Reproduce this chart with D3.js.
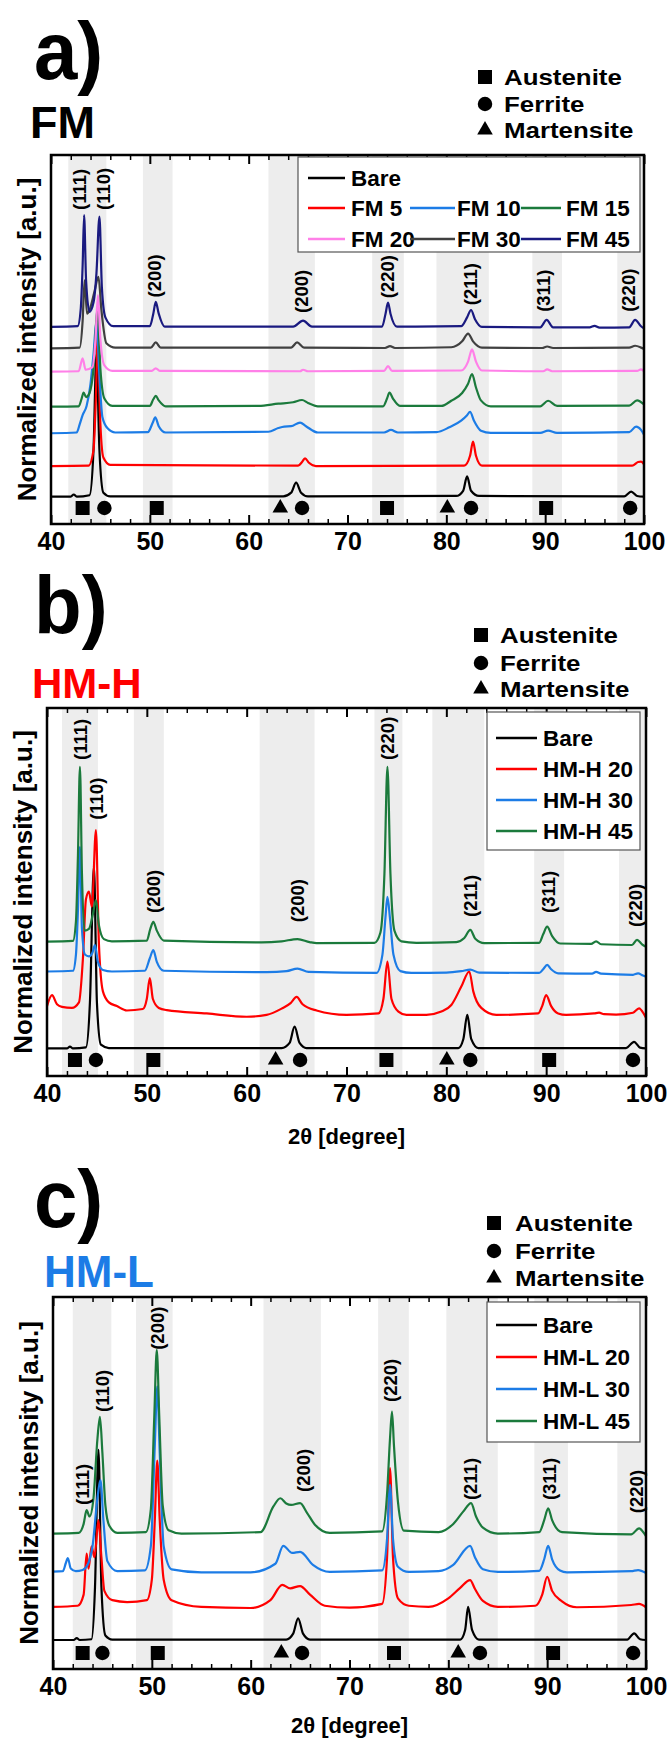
<!DOCTYPE html>
<html><head><meta charset="utf-8">
<script src="https://cdn.jsdelivr.net/npm/d3@7"></script>
<style>body{margin:0;background:#fff}svg{display:block}text{font-family:"Liberation Sans",Arial,sans-serif;font-weight:bold}</style>
</head><body><svg id="c" width="667" height="1742"></svg>
<script>
// ---------------- DATA ----------------
const xMajorTicks = [40,50,60,70,80,90,100];
const xMinorTicks = [42,44,46,48,52,54,56,58,62,64,66,68,72,74,76,78,82,84,86,88,92,94,96,98];
const phaseNames = ["Austenite","Ferrite","Martensite"];
const yTitle = "Normalized intensity [a.u.]";
const xTitle = "2\u03b8 [degree]";

// Panel a (FM)
const namesA = ["Bare","FM 5","FM 10","FM 15","FM 20","FM 30","FM 45"];
const bareA = [[40,7.4],[42.0,7.4],[42.3,8.0],[42.6,7.4],[43.9,7.8],[44.3,20],[44.6,46],[44.9,20],[45.3,8.5],[46,7.5],[63.5,7.5],[64.3,8.5],[64.8,11.2],[65.3,8.5],[66,7.5],[81,7.6],[81.7,9],[82.1,12.9],[82.5,9],[83.3,7.6],[98.0,7.5],[98.7,8.8],[99.3,7.6],[100,7.4]];
const fm5 = [[40,15.7],[43.8,15.8],[44.3,20],[44.55,35],[44.75,52],[44.95,30],[45.3,18],[46,16],[65,15.8],[65.4,16.8],[65.7,17.8],[66.1,16.6],[66.8,15.7],[81.8,15.8],[82.4,18.5],[82.7,22.3],[83.0,18.5],[83.6,15.8],[98.8,15.8],[99.4,16.8],[99.7,16.9],[100,16.2]];
const fm10 = [[40,24.6],[42.6,24.8],[42.9,27],[43.2,29.5],[43.6,32],[44.0,38],[44.3,46],[44.6,55],[44.9,40],[45.2,29],[45.7,26],[46.5,24.8],[49.8,24.9],[50.3,27.5],[50.55,28.9],[50.9,26.5],[51.6,24.8],[62.0,25],[63.0,26],[63.6,26.4],[64.3,26.5],[65.2,27.5],[65.8,26.5],[67,24.8],[73.7,24.8],[74.4,25.5],[75.1,24.8],[79,24.9],[80.3,26.2],[81.5,28],[82.1,29.5],[82.4,30.4],[82.8,28],[83.5,25.3],[84.5,24.7],[89.5,24.7],[90.3,25.3],[91.2,24.7],[98.5,24.9],[99.2,26.4],[99.7,25.5],[100,24.2]];
const fm15 = [[40,31.8],[42.8,31.9],[43.1,34],[43.3,35.6],[43.55,34.4],[43.9,35.5],[44.3,42],[44.7,58],[45.0,42],[45.4,34],[46.2,32],[50.0,32],[50.35,33.8],[50.6,34.7],[50.9,33.5],[51.6,31.9],[61.0,32],[63,32.6],[64.5,33.0],[65.4,33.6],[66.0,32.8],[67,31.9],[73.6,31.9],[74.0,34],[74.25,35.6],[74.6,34],[75.3,32],[79.5,32],[80.5,33.4],[81.6,35.5],[82.2,38],[82.6,40.6],[83.0,37],[83.5,33.5],[84.5,31.9],[89.5,31.9],[90.3,33.4],[91.2,32],[98.5,32.1],[99.3,33.5],[100,32.4]];
const fm20 = [[40,41.3],[42.8,41.4],[43.2,44.9],[43.5,41.8],[44.2,42.5],[44.5,50],[44.75,62],[45.0,50],[45.4,43],[46.2,41.5],[50.2,41.5],[50.6,42.2],[51.0,41.5],[65.2,41.4],[65.5,41.8],[66,41.4],[73.7,41.5],[74.1,42.8],[74.5,41.5],[81.5,41.6],[82.2,44],[82.6,47.3],[83.0,44],[83.6,41.6],[89.8,41.4],[90.2,41.9],[90.7,41.4],[99.3,41.5],[99.7,41.9],[100,41.4]];
const fm30 = [[40,47.6],[42.9,47.8],[43.2,55],[43.4,66],[43.65,57],[43.9,58],[44.4,63],[44.8,67],[45.1,58],[45.6,49],[46.5,47.8],[50.1,47.8],[50.6,49.2],[51.1,47.8],[64.3,47.8],[64.9,49.2],[65.6,47.8],[73.8,47.7],[74.3,48.2],[74.8,47.7],[80.5,47.9],[81.6,49.5],[82.2,51.6],[82.7,49.5],[83.6,47.8],[89.7,47.7],[90.2,48.1],[90.8,47.7],[98.5,47.8],[99.1,48.3],[99.7,47.8],[100,47.4]];
const fm45 = [[40,53.4],[42.7,53.6],[43.0,58],[43.2,70],[43.35,83.7],[43.55,66],[43.9,57.5],[44.3,60],[44.6,68],[44.9,83.3],[45.15,64],[45.5,56],[46.3,53.6],[50.0,53.6],[50.35,57],[50.6,60.2],[50.9,57],[51.5,53.5],[64.5,53.5],[65.5,55.1],[66.4,53.5],[73.5,53.5],[73.85,57],[74.1,60],[74.35,57],[75,53.5],[81.5,53.6],[82.1,56],[82.5,58],[82.9,55.5],[83.6,53.4],[89.5,53.3],[90.15,55.3],[90.8,53.3],[94.5,53.3],[95,53.7],[95.5,53.2],[98.5,53.3],[99.1,55.3],[99.7,53.6],[100,53.0]];
const peaksA = [["(111)",42.9,85.1],["(110)",45.3,85.1],["(200)",50.5,61.4],["(200)",65.3,57.2],["(220)",74.0,61.2],["(211)",82.4,59.3],["(311)",89.8,57.5],["(220)",98.4,57.5]];
const phasesA = [["s",43.2],["c",45.4],["s",50.7],["t",63.2],["c",65.4],["s",74.0],["t",80.1],["c",82.5],["s",90.1],["c",98.6]];
const bandsA = [[41.75,45.6],[49.3,52.3],[62.0,66.7],[72.5,75.7],[79.0,84.3],[88.7,91.7],[97.3,100]];

// Panel b (HM-H)
const namesB = ["Bare","HM-H 20","HM-H 30","HM-H 45"];
const bareB = [[40,7.5],[42.0,7.5],[42.3,8.0],[42.6,7.5],[43.9,7.8],[44.3,20],[44.7,57],[45.0,20],[45.4,8.5],[46.2,7.6],[63.5,7.6],[64.3,9],[64.8,13.4],[65.3,9],[66,7.6],[81.2,7.6],[81.7,10],[82.1,16.6],[82.5,10],[83.2,7.6],[98.0,7.6],[98.8,9.3],[99.4,7.7],[100,7.5]];
const hmh20 = [[40,19],[40.5,22],[41.0,19.5],[41.5,18.8],[42.5,18.5],[43.2,20],[43.6,32],[43.9,48],[44.2,50.1],[44.5,46],[44.9,66.8],[45.2,36],[45.6,23],[46.2,20],[47,19],[48,17.8],[49.6,18.2],[50.0,21],[50.3,26.6],[50.6,21],[51.2,18.5],[52,17.9],[56,17],[60,16.1],[62,16.6],[63.5,18.3],[64.4,19.8],[65.0,21.5],[65.6,19.5],[67,17.8],[70,16.6],[73.2,17],[73.7,21],[74.1,31.1],[74.5,21],[75.2,17.5],[76,16.6],[78,16.6],[79.5,17.5],[80.5,19.3],[81.5,24.3],[82.3,28.4],[82.7,23],[83.5,18.5],[85,16.6],[89.2,17],[89.6,19],[90.0,22.0],[90.5,19],[91.2,17],[92,16.6],[94.8,17],[95.3,17.2],[95.8,16.8],[97,16.7],[98.7,17.2],[99.3,18.4],[99.8,16.8],[100,15.8]];
const hmh30 = [[40,28.4],[42.6,28.6],[42.9,33],[43.1,45],[43.3,62.3],[43.5,40],[43.8,33],[44.2,32.5],[44.55,33.5],[44.8,35.6],[45.1,31],[45.6,28.8],[46.5,28.4],[49.8,28.6],[50.3,32],[50.65,34.2],[51.0,31],[51.7,28.6],[62,28.2],[64,28.5],[65.1,29.2],[66.2,28.3],[73.0,28.0],[73.6,33],[73.9,43],[74.1,48.7],[74.35,43],[74.7,33],[75.4,28.5],[76.5,28.0],[80,28.1],[81.5,28.5],[82.4,28.9],[83.3,28.1],[89.3,28.0],[89.7,29],[90.1,30.2],[90.5,29],[91.2,27.9],[94.6,27.8],[95.0,28.3],[95.5,27.8],[98.7,27.5],[99.2,27.9],[99.7,27.3],[100,27.0]];
const hmh45 = [[40,36.5],[42.6,36.7],[42.9,42],[43.1,60],[43.3,84],[43.5,55],[43.75,39.5],[44.2,40],[44.6,44],[44.9,47.8],[45.2,41],[45.7,37.2],[46.5,36.6],[50.0,36.8],[50.35,40],[50.65,41.9],[51.0,39.5],[51.7,36.8],[61.5,36.3],[63.5,36.6],[65.1,37.2],[66.3,36.4],[67,36.1],[72.8,36.2],[73.4,39],[73.8,55],[74.1,84],[74.4,55],[74.8,39.5],[75.5,36.6],[77,36.2],[81,36.4],[81.8,37.5],[82.4,39.7],[82.9,37.3],[83.8,36.1],[89.3,36.2],[89.7,38.5],[90.1,40.6],[90.6,38],[91.4,36],[94.5,35.9],[95.0,36.6],[95.5,35.8],[98.6,35.6],[99.1,37],[99.6,35.8],[100,35.1]];
const peaksB = [["(111)",43.3,85.9],["(110)",44.9,69.6],["(200)",50.7,44.3],["(200)",65.1,41.8],["(220)",74.1,85.9],["(211)",82.4,43.2],["(311)",90.2,44.3],["(220)",98.9,40.5]];
const phasesB = [["s",42.8],["c",44.9],["s",50.65],["t",62.9],["c",65.35],["s",74.0],["t",80.05],["c",82.4],["s",90.3],["c",98.7]];
const bandsB = [[41.5,45.1],[48.7,51.7],[61.3,66.8],[72.8,75.6],[78.6,83.8],[88.8,91.8],[97.3,100]];

// Panel c (HM-L)
const namesC = ["Bare","HM-L 20","HM-L 30","HM-L 45"];
const bareC = [[40,7.8],[42.1,7.8],[42.4,8.3],[42.7,7.8],[43.9,8],[44.25,22],[44.6,58.9],[44.9,22],[45.3,9],[46,7.9],[63.6,7.9],[64.3,9.5],[64.8,13.6],[65.3,9.5],[66,7.9],[81.2,7.9],[81.7,10.5],[82.0,16.7],[82.4,10.5],[83.1,7.9],[98.1,7.9],[98.8,9.6],[99.4,8],[100,7.8]];
const hml20 = [[40,16.7],[42.5,17],[43.1,20],[43.4,31],[43.6,27],[43.9,33],[44.2,30],[44.6,40],[44.9,30],[45.2,21],[46,18.5],[47.5,18],[49.5,18.5],[50.0,24],[50.3,40],[50.55,56],[50.8,40],[51.2,24],[52,18.5],[55,16.7],[60,16.4],[62,18.5],[63.2,22.6],[64,21.7],[65.0,22.3],[66,20],[67.5,17],[70,16.5],[73.3,17.5],[73.8,30],[74.1,54],[74.4,30],[74.9,19],[76,17],[78,16.7],[80,19],[81.2,21.8],[82.2,23.9],[82.7,21.5],[83.5,18.3],[85,16.7],[88.8,17],[89.5,20],[90.0,24.8],[90.5,21],[91.5,18.2],[93,16.6],[98.5,17.2],[99.3,17.5],[100,16.6]];
const hml30 = [[40,26.2],[41.0,26.3],[41.3,28.5],[41.5,29.8],[41.8,27],[42.3,26.3],[43.0,26.6],[43.5,28],[44.0,33],[44.5,46],[44.8,50.8],[45.1,40],[45.5,29],[46.5,26.3],[49.3,26.5],[49.9,33],[50.3,60],[50.55,76],[50.8,58],[51.2,33],[52,26.8],[55,26.0],[60,26.0],[62.5,28.3],[63.3,33.1],[64.2,31.2],[65.0,31.5],[66.3,28],[68,26.1],[73.3,26.5],[73.8,35],[74.1,49.5],[74.4,35],[74.9,27.5],[76,26.1],[79,26.3],[80.5,28],[82.2,33.1],[82.7,30],[83.5,26.8],[85,26.1],[89.2,26.4],[89.7,29.5],[90.1,33.1],[90.5,29.5],[91.3,26.5],[92,26.0],[98.5,26.3],[99.2,26.6],[100,25.8]];
const hml45 = [[40,36.4],[42.6,36.6],[43.1,39],[43.4,42.7],[43.7,41],[44.1,46],[44.5,62],[44.75,67.8],[45.0,58],[45.3,44],[45.7,38.5],[46.5,36.6],[49.4,36.8],[49.9,43],[50.25,68],[50.5,85.8],[50.75,68],[51.1,44],[51.7,37.3],[53,36.4],[61,36.8],[62.3,43.7],[63.0,45.9],[63.6,44.5],[64.1,44.1],[65.0,44.6],[65.7,42],[66.5,38.8],[68,36.6],[73.3,37],[73.8,47],[74.1,62],[74.3,69.2],[74.5,60],[74.9,45],[75.5,37.2],[79,36.8],[80.5,39],[81.5,42.3],[82.3,44.6],[82.8,41],[83.5,38],[85,36.4],[89.2,36.8],[89.7,40],[90.1,43.2],[90.5,40],[91.5,36.8],[98.5,36.2],[99.3,37.8],[99.8,36.5],[100,35.7]];
const peaksC = [["(111)",43.0,44.1],["(110)",45.0,69.1],["(200)",50.6,85.8],["(200)",65.3,47.6],["(220)",74.1,71.8],["(211)",82.2,45.4],["(311)",90.2,45.4],["(220)",99.0,41.9]];
const phasesC = [["s",43.0],["c",45.0],["s",50.6],["t",63.1],["c",65.2],["s",74.5],["t",81.0],["c",83.2],["s",90.6],["c",98.7]];
const bandsC = [[42.0,45.9],[48.4,52.1],[61.3,67.1],[72.9,76.0],[79.8,85.0],[88.7,92.1],[97.1,100]];

// ---------------- STYLE / LAYOUT ----------------
const colorsA = ["#000000","#ff0000","#1c7ce6","#1b7a3c","#ff80e8","#404040","#1a1a80"];
const colorsBC = ["#000000","#ff0000","#1c7ce6","#1b7a3c"];

const panels = [
  {letter:"a)", name:"FM", nameColor:"#000", series:[bareA,fm5,fm10,fm15,fm20,fm30,fm45], names:namesA, colors:colorsA,
   peaks:peaksA, phases:phasesA, bands:bandsA, x0:51,x1:644,y0:155,y1:524,
   letterY:79, nameY:138, nameX:30, nameFs:45, phX:485, phTX:504, phY:[85,112,138], xTitleY:null, yTitleX:36,
   leg:{x0:298,x1:640,y0:157,y1:252,
        items:[[0,0],[1,0],[1,1],[1,2],[2,0],[2,1],[2,2]], rowY:[178,208,239], colLine:[[308,345],[410,455],[521,561]], colText:[351,457,566]}},
  {letter:"b)", name:"HM-H", nameColor:"#ff0000", series:[bareB,hmh20,hmh30,hmh45], names:namesB, colors:colorsBC,
   peaks:peaksB, phases:phasesB, bands:bandsB, x0:47,x1:646,y0:708,y1:1076,
   letterY:633, nameY:698, nameX:32, nameFs:42, phX:481, phTX:500, phY:[643,671,697], xTitleY:1144, yTitleX:32,
   leg:{x0:487,x1:640,y0:712,y1:850,
        items:[[0,0],[1,0],[2,0],[3,0]], rowY:[738,769,800,831], colLine:[[496,537]], colText:[543]}},
  {letter:"c)", name:"HM-L", nameColor:"#1c7ce6", series:[bareC,hml20,hml30,hml45], names:namesC, colors:colorsBC,
   peaks:peaksC, phases:phasesC, bands:bandsC, x0:53,x1:646,y0:1297,y1:1669,
   letterY:1227, nameY:1287, nameX:44, nameFs:44, phX:494, phTX:515, phY:[1231,1259,1286], xTitleY:1733, yTitleX:38,
   leg:{x0:487,x1:640,y0:1302,y1:1442,
        items:[[0,0],[1,0],[2,0],[3,0]], rowY:[1325,1357,1389,1421], colLine:[[496,537]], colText:[543]}}
];

const svg = d3.select("#c");

function T(g, s, x, y, o={}) {
  let tr = `translate(${x},${y})`;
  if (o.rot) tr += ` rotate(${o.rot})`;
  if (o.sx || o.sy) tr += ` scale(${o.sx||1},${o.sy||1})`;
  const t = g.append("text").attr("transform", tr).attr("font-size", o.fs||20)
    .attr("text-anchor", o.anchor||"start").attr("fill", o.fill||"#000").text(s);
  if (o.dy) t.attr("dy", o.dy);
  return t;
}
const symType = {s:d3.symbolSquare, c:d3.symbolCircle, t:d3.symbolTriangle};
const symSize = {s:196, c:165, t:105};

panels.forEach(P => {
  const g = svg.append("g");
  const x = d3.scaleLinear().domain([40,100]).range([P.x0,P.x1]);
  const y = d3.scaleLinear().domain([0,100]).range([P.y1,P.y0]);

  // bands
  g.selectAll("rect.band").data(P.bands).join("rect").attr("class","band")
    .attr("x", d=>x(d[0])).attr("width", d=>x(d[1])-x(d[0]))
    .attr("y", P.y0).attr("height", P.y1-P.y0).attr("fill","#ededed");

  // traces
  const line = d3.line().x(d=>x(d[0])).y(d=>y(d[1])).curve(d3.curveMonotoneX);
  P.series.forEach((s,i) => {
    g.append("path").datum(s).attr("d", line).attr("fill","none")
      .attr("stroke", P.colors[i]).attr("stroke-width", 2.2).attr("stroke-linejoin","round");
  });

  // peak labels
  P.peaks.forEach(p => T(g, p[0], x(p[1]), y(p[2]), {rot:-90, fs:18.5, dy:"0.36em"}));

  // phase symbols
  P.phases.forEach(p => {
    g.append("path").attr("d", d3.symbol().type(symType[p[0]]).size(symSize[p[0]])())
      .attr("transform", `translate(${x(p[1])},${P.y1-16})`).attr("fill","#000");
  });

  // ticks
  const ax = d3.axisBottom(x).tickValues(xMajorTicks).tickSizeInner(-9).tickSizeOuter(0).tickPadding(8);
  const axG = g.append("g").attr("transform",`translate(0,${P.y1})`).call(ax);
  axG.select(".domain").remove();
  axG.selectAll("text").attr("font-size",25).attr("font-family",'"Liberation Sans",Arial,sans-serif').attr("font-weight","bold").attr("fill","#000");
  axG.selectAll("line").attr("stroke","#000").attr("stroke-width",2);
  const axMin = d3.axisBottom(x).tickValues(xMinorTicks).tickSizeInner(-5).tickSizeOuter(0).tickFormat("");
  const mG = g.append("g").attr("transform",`translate(0,${P.y1})`).call(axMin);
  mG.select(".domain").remove(); mG.selectAll("line").attr("stroke","#000").attr("stroke-width",1.5);
  const axT = d3.axisTop(x).tickValues(xMajorTicks).tickSizeInner(-9).tickSizeOuter(0).tickFormat("");
  const tG = g.append("g").attr("transform",`translate(0,${P.y0})`).call(axT);
  tG.select(".domain").remove(); tG.selectAll("line").attr("stroke","#000").attr("stroke-width",2);
  const axTm = d3.axisTop(x).tickValues(xMinorTicks).tickSizeInner(-5).tickSizeOuter(0).tickFormat("");
  const tmG = g.append("g").attr("transform",`translate(0,${P.y0})`).call(axTm);
  tmG.select(".domain").remove(); tmG.selectAll("line").attr("stroke","#000").attr("stroke-width",1.5);

  // legend box
  const L = P.leg;
  g.append("rect").attr("x",L.x0).attr("y",L.y0).attr("width",L.x1-L.x0).attr("height",L.y1-L.y0)
    .attr("fill","#fff").attr("stroke","#555").attr("stroke-width",1.2);
  P.names.forEach((n,i) => {
    const [r,c] = L.items[i];
    const ly = L.rowY[r];
    g.append("line").attr("x1",L.colLine[c][0]).attr("x2",L.colLine[c][1]).attr("y1",ly).attr("y2",ly)
      .attr("stroke",P.colors[i]).attr("stroke-width",2.5);
    T(g, n, L.colText[c], ly+8, {fs:22.5});
  });

  // frame
  g.append("rect").attr("x",P.x0).attr("y",P.y0).attr("width",P.x1-P.x0).attr("height",P.y1-P.y0)
    .attr("fill","none").attr("stroke","#000").attr("stroke-width",2.5);

  // titles
  T(g, P.letter, 34, P.letterY, {fs:78, sy:1.04});
  T(g, P.name, P.nameX, P.nameY, {fs:P.nameFs, fill:P.nameColor});
  ["s","c","t"].forEach((k,i) => {
    g.append("path").attr("d", d3.symbol().type(symType[k]).size(symSize[k])())
      .attr("transform", `translate(${P.phX},${P.phY[i]-8})`).attr("fill","#000");
    T(g, phaseNames[i], P.phTX, P.phY[i], {fs:22.5, sx:1.15});
  });
  T(g, yTitle, P.yTitleX, (P.y0+P.y1)/2, {rot:-90, fs:26, anchor:"middle"});
  if (P.xTitleY) T(g, xTitle, (P.x0+P.x1)/2, P.xTitleY, {fs:22, anchor:"middle"});
});
</script></body></html>
